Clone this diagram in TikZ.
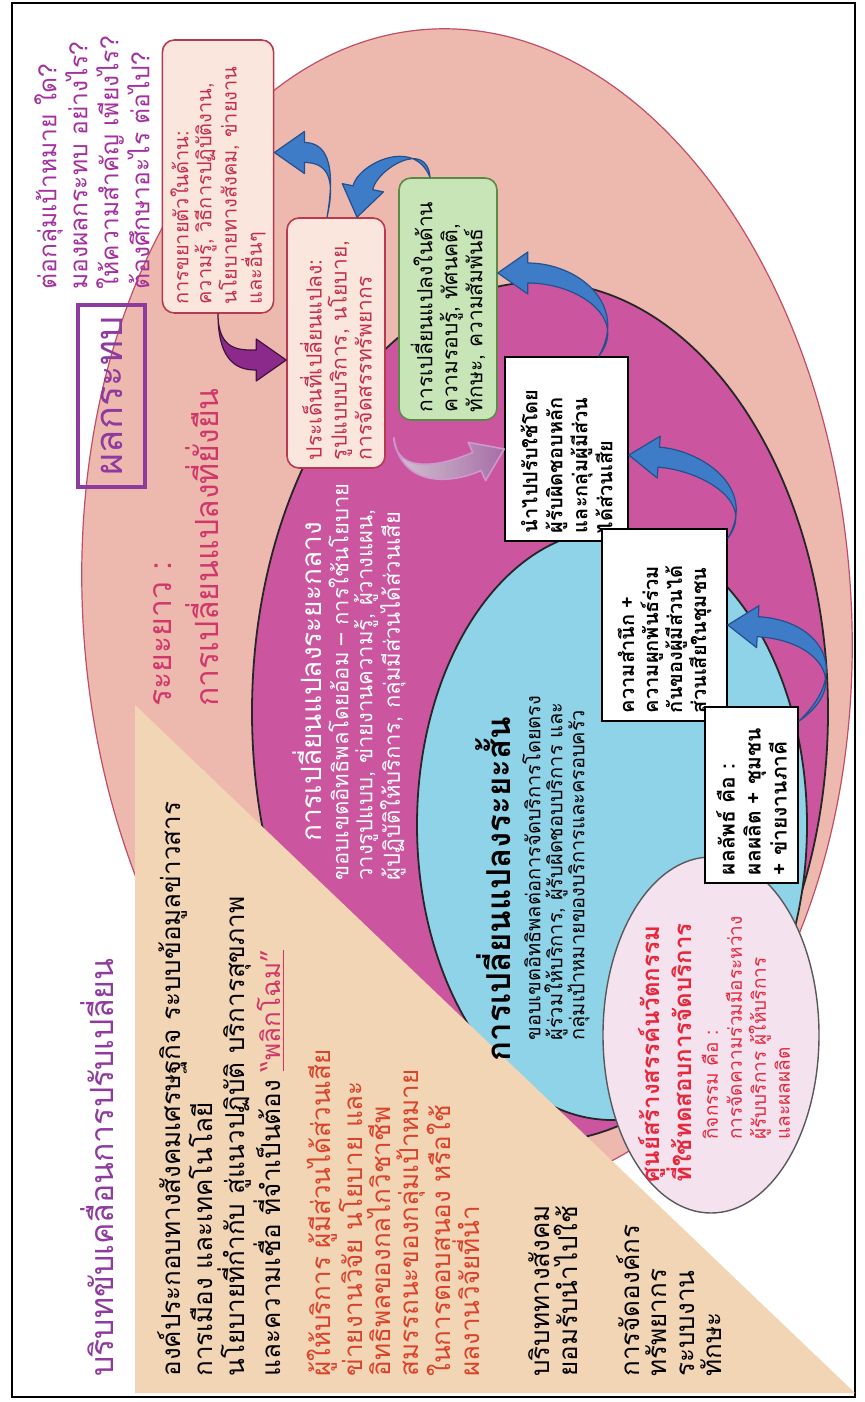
\documentclass[tikz,border=0pt]{standalone}
\usepackage{fontspec}
\setmainfont{Loma}[Script=Thai]
\usetikzlibrary{calc}

\definecolor{salmonfill}{HTML}{EDB9AE}
\definecolor{salmonedge}{HTML}{C24D66}
\definecolor{magfill}{HTML}{CC55A0}
\definecolor{bluefill}{HTML}{8ED3E8}
\definecolor{beige}{HTML}{F2D5B5}
\definecolor{pinkell}{HTML}{F4E2EF}
\definecolor{greenfill}{HTML}{C8E5B8}
\definecolor{greenedge}{HTML}{5A8A45}
\definecolor{pinkbox}{HTML}{FBE6DE}
\definecolor{pinkboxedge}{HTML}{B83A50}
\definecolor{boxred}{HTML}{C4304C}
\definecolor{titlepurple}{HTML}{8E3A9E}
\definecolor{qpurple}{HTML}{A3309E}
\definecolor{crimson}{HTML}{D0386B}
\definecolor{trired}{HTML}{D9432A}
\definecolor{ctrred}{HTML}{E6283C}
\definecolor{arrowblue}{HTML}{3E7CC7}
\definecolor{arrowedge}{HTML}{24508E}
\definecolor{arrowpurple}{HTML}{8C2A8C}

\newcommand{\fs}[2]{\fontsize{#1}{#2}\selectfont}

% tapered curved block arrow: #1 style, #2 tail, #3 first control, #4 second control, #5 tip
\newcommand{\taperarrow}[5]{%
  \coordinate (ta-h) at ($(#5)!15pt!(#4)$);
  \coordinate (ta-a) at ($(ta-h)!5pt!90:(#5)$);
  \coordinate (ta-b) at ($(ta-h)!5pt!-90:(#5)$);
  \coordinate (ta-wa) at ($(ta-h)!10.5pt!90:(#5)$);
  \coordinate (ta-wb) at ($(ta-h)!10.5pt!-90:(#5)$);
  \filldraw[#1] (#2)
    .. controls ($(#3)+0.7*(ta-a)-0.7*(ta-h)$) and ($(#4)+1.0*(ta-a)-1.0*(ta-h)$) .. (ta-a)
    -- (ta-wa) -- (#5) -- (ta-wb) -- (ta-b)
    .. controls ($(#4)+1.0*(ta-b)-1.0*(ta-h)$) and ($(#3)+0.7*(ta-b)-0.7*(ta-h)$) .. (#2) -- cycle;
}

\begin{document}
\begin{tikzpicture}[x=0.5pt,y=-0.5pt,
  vtext/.style={rotate=90, inner sep=0pt, align=left},
  rbox/.style={rotate=90, inner sep=4pt, align=left, line width=0.8pt},
  pinkrbox/.style={rbox, fill=pinkbox, draw=pinkboxedge, rounded corners=6pt, text=boxred, font=\fs{10}{11.5}},
  whitebox/.style={rbox, fill=white, draw=black, font=\bfseries\fs{10}{12.5}},
  bluearrow/.style={fill=arrowblue, draw=arrowedge, line width=0.6pt, line join=round},
  purplearrow/.style={fill=arrowpurple, draw=black!55!arrowpurple, line width=0.6pt, line join=round},
  softarrow/.style={left color=violet!10, right color=violet!50, fill opacity=0.85,
    draw=white!60!violet, line width=0.8pt, line join=round}
]
% page and frame
\fill[white] (0,0) rectangle (865,1402);
\useasboundingbox (0,0) rectangle (865,1402);
\draw[line width=1.4pt] (12,3) rectangle (855,1397);

% nested spheres of change
\coordinate (cLong) at (467,610);
\coordinate (cMid) at (540,712);
\coordinate (cShort) at (612,825);
\draw[fill=salmonfill, draw=salmonedge, line width=0.6pt, rotate around={4:(cLong)}]
  (cLong) ellipse [x radius=192pt, y radius=291pt];
\draw[fill=magfill, draw=black!85, line width=0.9pt]
  (cMid) ellipse [x radius=144pt, y radius=215pt];
\draw[fill=bluefill, draw=black!85, line width=0.9pt]
  (cShort) ellipse [x radius=97.5pt, y radius=147.5pt];

% driving context
\fill[beige] (135,705) -- (135,1393) -- (855,1393) -- cycle;

% innovation centre
\draw[fill=pinkell, draw=black!65, line width=0.7pt] (711,1035) ellipse [x radius=54pt, y radius=89pt];

% outcome boxes
\node[pinkrbox, minimum width=136.5pt, minimum height=55pt, text width=128pt] (B1) at (218,176.5)
  {การขยายตัวในด้าน:\\ความรู้, วิธีการปฏิบัติงาน,\\นโยบายทางสังคม, ข่ายงาน\\และอื่นๆ};
\node[pinkrbox, minimum width=125pt, minimum height=49pt, text width=117pt, font=\fs{10.5}{12.5}] (B2) at (336,343)
  {ประเด็นที่เปลี่ยนแปลง:\\รูปแบบบริการ, นโยบาย,\\การจัดสรรทรัพยากร};
\node[rbox, fill=greenfill, draw=greenedge, rounded corners=6pt, minimum width=121pt, minimum height=49pt,
  text width=113pt, font=\fs{10.5}{12.5}] (B3) at (448,299)
  {การเปลี่ยนแปลงในด้าน\\ความรอบรู้, ทัศนคติ,\\ทักษะ, ความสัมพันธ์};
\node[whitebox, minimum width=91pt, minimum height=61.5pt, text width=84pt] (B4) at (566.5,449)
  {นำไปปรับใช้โดย\\ผู้รับผิดชอบหลัก\\และกลุ่มผู้มีส่วน\\ได้ส่วนเสีย};
\node[whitebox, minimum width=95pt, minimum height=62.5pt, text width=88pt, font=\bfseries\fs{10}{12}] (B5) at (664.5,625)
  {ความสำนึก +\\ความผูกพันธ์ร่วม\\กันของผู้มีส่วนได้\\ส่วนเสียในชุมชน};
\node[whitebox, minimum width=87pt, minimum height=46.5pt, text width=80pt, font=\bfseries\fs{10.5}{13}] (B6) at (751.5,795)
  {ผลลัพธ์ คือ :\\ผลผลิต + ชุมชน\\+ ข่ายงานภาคี};

% questions and impact label
\node[vtext, anchor=west, text=qpurple, font=\fs{12.3}{15.5}] (Q) at (92,290)
  {ต่อกลุ่มเป้าหมาย ใด?\\มองผลกระทบ อย่างไร?\\ให้ความสำคัญ เพียงไร?\\ต้องศึกษาอะไร ต่อไป?};
\node[rotate=90, draw=titlepurple, line width=2pt, minimum width=91pt, minimum height=33.5pt,
  text=titlepurple, font=\fs{19}{21}] (IMP) at (111.5,396) {ผลกระทบ};

% long term
\node[vtext, anchor=west, text=crimson, font=\fs{16}{23.5}] (LT) at (186,707)
  {ระยะยาว :\\การเปลี่ยนแปลงที่ยั่งยืน};

% intermediate term
\node[vtext, text=white, font=\fs{14}{16}] (MT) at (307,682) {การเปลี่ยนแปลงระยะกลาง};
\node[vtext, text=white, font=\fs{11}{12}] (MTb) at (367,682)
  {ขอบเขตอิทธิพลโดยอ้อม – การใช้นโยบาย\\วางรูปแบบ, ข่ายงานความรู้, ผู้วางแผน,\\ผู้ปฏิบัติให้บริการ, กลุ่มมีส่วนได้ส่วนเสีย};

% short term
\node[vtext, font=\bfseries\fs{16.5}{18}] (ST) at (493,889) {การเปลี่ยนแปลงระยะสั้น};
\node[vtext, font=\fs{10}{11}] (STb) at (556,868)
  {ขอบเขตอิทธิพลต่อการจัดบริการโดยตรง\\ผู้ร่วมให้บริการ, ผู้รับผิดชอบบริการ และ\\กลุ่มเป้าหมายของบริการและครอบครัว};

% innovation centre text
\node[vtext, anchor=west, text=ctrred, font=\bfseries\fs{12}{13}] (CT) at (665,1183)
  {ศูนย์สร้างสรรค์นวัตกรรม\\ที่ใช้ทดสอบการจัดบริการ};
\node[vtext, anchor=west, text=ctrred, font=\fs{9.5}{12}] (CTb) at (746,1140)
  {กิจกรรม คือ :\\การจัดความร่วมมือระหว่าง\\ผู้รับบริการ ผู้ให้บริการ\\และผลผลิต};

% driving context text
\node[vtext, anchor=west, text=titlepurple, font=\fs{16}{18}] (CX) at (97,1377) {บริบทขับเคลื่อนการปรับเปลี่ยน};
\node[vtext, anchor=west, font=\fs{13}{14}] (P1) at (185,1377)
  {องค์ประกอบทางสังคมเศรษฐกิจ ระบบข้อมูลข่าวสาร\\การเมือง และเทคโนโลยี};
\node[vtext, anchor=west, font=\fs{13}{14}] (P2) at (251,1377)
  {นโยบายที่กำกับ สู่แนวปฏิบัติ บริการสุขภาพ\\และความเชื่อ ที่จำเป็นต้อง \textcolor{crimson}{\underline{“พลิกโฉม”}}};
\node[vtext, anchor=west, text=trired, font=\fs{13}{14.25}] (P3) at (349,1377)
  {ผู้ให้บริการ ผู้มีส่วนได้ส่วนเสีย\\ข่ายงานวิจัย นโยบาย และ\\อิทธิพลของกลไกวิชาชีพ};
\node[vtext, anchor=west, text=trired, font=\fs{13}{14.25}] (P4) at (438,1377)
  {สมรรถนะของกลุ่มเป้าหมาย\\ในการตอบสนอง หรือใช้\\ผลงานวิจัยที่นำ};
\node[vtext, anchor=west, font=\fs{13}{14}] (P5) at (553,1377)
  {บริบททางสังคม\\ยอมรับนำไปใช้};
\node[vtext, anchor=west, font=\fs{13}{13.75}] (P6) at (669,1377)
  {การจัดองค์กร\\ทรัพยากร\\ระบบงาน\\ทักษะ};

% flow of change between levels: tail, controls and tip of each arrow
\coordinate (aS) at ($(B6.south east)+(0,15)$);   \coordinate (aT) at (B5.south);
\coordinate (bS) at ($(B5.south east)+(0,10)$);   \coordinate (bT) at ($(B4.south)+(0,6)$);
\coordinate (cS) at ($(B4.south east)+(-30,0)$);  \coordinate (cT) at ($(B3.south)+(0,-26)$);
\coordinate (dS) at ($(B3.east)+(-18,0)$);        \coordinate (dT) at ($(B2.east)+(21,0)$);
\coordinate (eS) at ($(B2.east)+(-9,0)$);         \coordinate (eT) at ($(B1.south)+(0,-24)$);
\coordinate (fS) at (B1.west);                    \coordinate (fT) at ($(B2.north)+(0,17)$);
\coordinate (gS) at ($(B2.south west)+(8,-31)$);  \coordinate (gT) at (B4.north);

\coordinate (aC1) at ($(aS)+(55,-45)$); \coordinate (aC2) at ($(aT)+(90,5)$);
\coordinate (bC1) at ($(bS)+(30,-45)$); \coordinate (bC2) at ($(bT)+(70,5)$);
\coordinate (cC1) at ($(cS)+(30,-45)$); \coordinate (cC2) at ($(cT)+(80,0)$);
\coordinate (dC1) at ($(dS)+(-10,-40)$); \coordinate (dC2) at ($(dT)+(10,-50)$);
\coordinate (eC1) at ($(eS)+(10,-50)$); \coordinate (eC2) at ($(eT)+(50,0)$);
\coordinate (fC1) at ($(fS)+(0,45)$);   \coordinate (fC2) at ($(fT)+(-45,0)$);
\coordinate (gC1) at ($(gS)+(5,45)$);   \coordinate (gC2) at ($(gT)+(-55,25)$);

\taperarrow{bluearrow}{aS}{aC1}{aC2}{aT}
\taperarrow{bluearrow}{bS}{bC1}{bC2}{bT}
\taperarrow{bluearrow}{cS}{cC1}{cC2}{cT}
\taperarrow{bluearrow}{dS}{dC1}{dC2}{dT}
\taperarrow{bluearrow}{eS}{eC1}{eC2}{eT}
\taperarrow{purplearrow}{fS}{fC1}{fC2}{fT}
\taperarrow{softarrow}{gS}{gC1}{gC2}{gT}
\end{tikzpicture}
\end{document}
